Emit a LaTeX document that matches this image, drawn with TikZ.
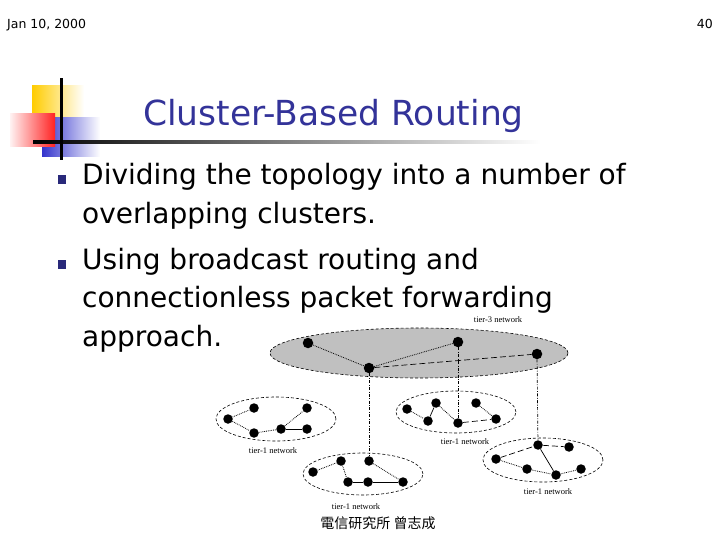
\documentclass[tikz,border=0pt]{standalone}
\usepackage{fontspec}
\setmainfont{DejaVu Sans}
\newfontfamily\cjkfont{Noto Sans CJK TC}
\newfontfamily\tierfont{Liberation Serif}
\usepackage{xcolor}
\usepackage{tikz}
\usetikzlibrary{positioning,shapes.geometric}
\definecolor{titleblue}{HTML}{333399}
\definecolor{logoyellow}{HTML}{FFCC00}
\definecolor{logoblue}{HTML}{3333CC}
\definecolor{logored}{HTML}{FF2222}
\definecolor{backbone}{HTML}{C0C0C0}

\begin{document}
\begin{tikzpicture}[x=1pt, y=-1pt,
  host/.style={circle, fill=black, inner sep=0pt, minimum size=9.5pt},
  cluster/.style={ellipse, draw, densely dashed, line width=0.6pt, inner sep=0pt},
  tier/.style={font=\tierfont\fontsize{8.5}{9}\selectfont, inner sep=0pt},
  body/.style={anchor=base west, font=\fontsize{28}{34}\selectfont, inner sep=0pt},
  bul/.style={rectangle, fill=titleblue!80!black, inner sep=0pt, minimum width=7.5pt, minimum height=9pt},
  intra/.style={densely dotted, line width=0.8pt},
  link/.style={dash pattern=on 6pt off 3pt, line width=0.7pt},
  uplink/.style={dash pattern=on 3pt off 1.5pt on 0.8pt off 1.5pt, line width=0.7pt}]
\useasboundingbox (0,0) rectangle (720,540);
% slide header and logo
\node[anchor=base west, font=\fontsize{12.5}{14}\selectfont, inner sep=0pt] (date) at (7,28.5) {Jan 10, 2000};
\node[anchor=base east, font=\fontsize{12.5}{14}\selectfont, inner sep=0pt] (page) at (713,28.5) {40};
\shade[left color=logoyellow, middle color=logoyellow, right color=white] (32,86) rectangle (84,118);
\shade[left color=logoblue, middle color=logoblue, right color=white] (42,118) rectangle (100,157);
\shade[left color=red!5, right color=logored] (10,114) rectangle (55,147);
\shade[left color=black, right color=white] (33,141) rectangle (540,143.5);
\fill[black] (60,78) rectangle (62.5,160);
\node[anchor=base, font=\fontsize{34.5}{40}\selectfont, text=titleblue, inner sep=0pt] (title) at (333.5,126) {Cluster-Based Routing};
% bullets
\node[bul] (bul1) at (62,180) {};
\node[bul] (bul2) at (62,264) {};
\node[body] (ln1) at (82,185) {Dividing the topology into a number of};
\node[body] (ln2) at (82,223) {overlapping clusters.};
\node[body] (ln3) at (82,269) {Using broadcast routing and};
\node[body] (ln4) at (82,307) {connectionless packet forwarding};
\node[body] (ln5) at (82,346) {approach.};
% clusters
\node[cluster, fill=backbone, minimum width=298pt, minimum height=50pt] (top) at (419,353) {};
\node[cluster, minimum width=120pt, minimum height=44pt] (cl) at (276,419) {};
\node[cluster, minimum width=120pt, minimum height=42pt] (cm) at (456,412) {};
\node[cluster, minimum width=120pt, minimum height=42pt] (cb) at (363,474) {};
\node[cluster, minimum width=120pt, minimum height=44pt] (cr) at (543,460) {};
\node[tier] (ttop) at (498,320) {tier-3 network};
\node[tier] (tl) at (273,451) {tier-1 network};
\node[tier] (tm) at (465,442) {tier-1 network};
\node[tier] (tb) at (356,507) {tier-1 network};
\node[tier] (tr) at (548,492) {tier-1 network};
% tier-3 hosts
\node[host, minimum size=10.5pt] (tA) at (308,343) {};
\node[host, minimum size=10.5pt] (tB) at (369,368) {};
\node[host, minimum size=10.5pt] (tC) at (458,342) {};
\node[host, minimum size=10.5pt] (tD) at (537,354) {};
% tier-1 hosts
\foreach \n/\x/\y in {l1/228/419, l2/254/408, l3/254/433, l4/281/429, l5/307/408, l6/307/429,
  m1/407/409, m2/436/403, m3/428/421, m4/458/423, m5/476/403, m6/496/419,
  b1/313/472, b2/341/461, b3/369/461, b4/348/482, b5/368/482, b6/403/482,
  r1/496/459, r2/538/445, r3/569/447, r4/527/469, r5/556/475, r6/581/469}
  \node[host] (\n) at (\x,\y) {};
% links
\foreach \a/\b in {tA/tB, tB/tC, l1/l2, l1/l3, l3/l4, l4/l5, m1/m3, m2/m4, m5/m6,
  b1/b2, b2/b4, b3/b6, r1/r4, r4/r5, r5/r6}
  \draw[intra] (\a)--(\b);
\foreach \a/\b in {tB/tD, m4/m6, r1/r2, r2/r3}
  \draw[link] (\a)--(\b);
\foreach \a/\b in {l4/l6, m3/m2, b4/b5, b5/b6, r2/r5}
  \draw[line width=0.7pt] (\a)--(\b);
\foreach \a/\b in {tB/b3, tC/m4, tD/r2}
  \draw[uplink] (\a)--(\b);
\node[font=\cjkfont\fontsize{14}{16}\selectfont, inner sep=0pt] (author) at (378,523) {電信研究所 曾志成};
\end{tikzpicture}
\end{document}
